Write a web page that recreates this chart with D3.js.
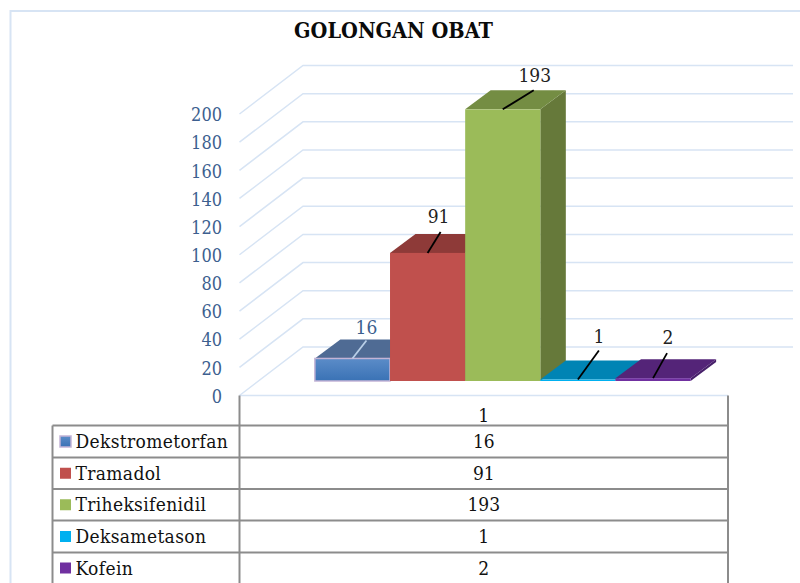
<!DOCTYPE html>
<html>
<head>
<meta charset="utf-8">
<script src="https://cdn.jsdelivr.net/npm/d3@7/dist/d3.min.js"></script>
<style>
html,body{margin:0;padding:0;background:#fff;overflow:hidden}
svg{display:block}
text{font-family:"DejaVu Serif Condensed","DejaVu Serif",serif}
</style>
</head>
<body>
<svg id="c" width="800" height="583"></svg>
<script>
const titleText = "GOLONGAN OBAT";
const seriesNames = ["Dekstrometorfan","Tramadol","Triheksifenidil","Deksametason","Kofein"];
const seriesValues = [16,91,193,1,2];
const categories = ["1"];
const yTicks = [0,20,40,60,80,100,120,140,160,180,200];
const frontColors = ["#4a7fbf","#c0504d","#9bbb59","#00b0f0","#7030a0"];
const topColors = ["#4f6b94","#8e3a38","#748d43","#0084b4","#542478"];
const sideColors = ["#435a7c","#7a3230","#66793a","#006f98","#47206a"];
const labelColors = ["#3d5f8f","#222222","#222222","#222222","#222222"];
const leaderColors = ["#b9cfe8","#000000","#000000","#000000","#000000"];
const leaderDx = [14,13,31,21,14];
const leaderDy = [18,21,19,29,25];
const labelDx = [14,11,32,21,15];
const labelDy = [31,36,33.5,43,41];

const FONT="'DejaVu Serif Condensed','DejaVu Serif',serif";
const GRID="#d7e4f4", TABLE="#8c8c8c", AXIS_TEXT="#3d5f8f";
const svg=d3.select("#c");

const left=239.5,right=728,floorY=395.5,topY=114;
const backDx=63.5,backDy=48.5;
const barDx=25.5,barDy=19,barBaseDy=14.5,barBaseDx=19;
const y=d3.scaleLinear().domain([0,200]).range([floorY,topY]);
const xCat=d3.scaleBand().domain(categories).range([left,right]).paddingOuter(0.15).paddingInner(0);
const xSer=d3.scaleBand().domain(seriesNames).range([xCat(categories[0]),xCat(categories[0])+xCat.bandwidth()]);
const h=v=>floorY-y(v);

// frame
svg.append("path").attr("d","M800,11H10.5V583").attr("fill","none").attr("stroke",GRID).attr("stroke-width",2);

// title
svg.append("text").attr("x",393.5).attr("y",38).attr("text-anchor","middle")
  .attr("font-size",21.5).attr("font-weight","bold").attr("fill","#0a0a0a").text(titleText);

// gridlines
const grid=svg.append("g").attr("fill","none").attr("stroke",GRID).attr("stroke-width",1.5);
yTicks.forEach(t=>{
  grid.append("path").attr("d",d3.line()([[left,y(t)],[left+backDx,y(t)-backDy],[793,y(t)-backDy]]));
});
grid.append("line").attr("x1",left).attr("x2",right).attr("y1",floorY).attr("y2",floorY);

// y axis labels
const axis=d3.axisLeft(y).tickValues(yTicks).tickSize(0).tickPadding(17.5);
const ga=svg.append("g").attr("transform",`translate(${left},1)`).call(axis);
ga.select(".domain").remove();
ga.selectAll("text").attr("font-family",FONT).attr("font-size",18).attr("fill",AXIS_TEXT);

// gradient for first series
const defs=svg.append("defs");
const lg=defs.append("linearGradient").attr("id","g0").attr("x1",0).attr("x2",0).attr("y1",0).attr("y2",1);
lg.append("stop").attr("offset",0).attr("stop-color","#5b8cc8");
lg.append("stop").attr("offset",1).attr("stop-color","#3a72b5");

// bars
const bars=svg.append("g");
seriesNames.forEach((s,i)=>{
  const x0=xSer(s)+barBaseDx,w=xSer.bandwidth(),v=seriesValues[i];
  const hh=h(v),base=floorY-barBaseDy,top=base-hh;
  const g=bars.append("g");
  g.append("path").attr("fill",sideColors[i])
    .attr("d",d3.line()([[x0+w,base],[x0+w+barDx,base-barDy],[x0+w+barDx,top-barDy],[x0+w,top]])+"Z");
  g.append("path").attr("fill",topColors[i])
    .attr("d",d3.line()([[x0,top],[x0+barDx,top-barDy],[x0+w+barDx,top-barDy],[x0+w,top]])+"Z");
  const r=g.append("rect").attr("x",x0).attr("y",top).attr("width",w).attr("height",hh)
    .attr("fill",i===0?"url(#g0)":frontColors[i]);
  if(i===0) r.attr("stroke","#c3b4d6").attr("stroke-width",1.5);
});

// leaders and value labels
seriesNames.forEach((s,i)=>{
  const cx=xSer(s)+barBaseDx+xSer.bandwidth()/2;
  const top=floorY-barBaseDy-h(seriesValues[i]);
  svg.append("line").attr("x1",cx).attr("y1",top).attr("x2",cx+leaderDx[i]).attr("y2",top-leaderDy[i])
    .attr("stroke",leaderColors[i]).attr("stroke-width",1.8);
  svg.append("text").attr("x",cx+labelDx[i]).attr("y",top-labelDy[i]+6.5).attr("text-anchor","middle")
    .attr("font-size",19).attr("fill",labelColors[i]).text(seriesValues[i]);
});

// data table
const tableLeft=52.5,rowH=[30,32,31.5,31.5,32,31];
const rowY=[floorY];
rowH.forEach(d=>rowY.push(rowY[rowY.length-1]+d));
const tb=svg.append("g").attr("stroke",TABLE).attr("stroke-width",2).attr("fill","none");
tb.append("line").attr("x1",left).attr("x2",left).attr("y1",floorY).attr("y2",583);
tb.append("line").attr("x1",right).attr("x2",right).attr("y1",floorY).attr("y2",583);
tb.append("line").attr("x1",tableLeft).attr("x2",tableLeft).attr("y1",rowY[1]).attr("y2",583);
rowY.slice(1,6).forEach(yy=>tb.append("line").attr("x1",tableLeft).attr("x2",right).attr("y1",yy).attr("y2",yy));

const cxTable=(left+right)/2;
svg.append("text").attr("x",cxTable).attr("y",rowY[0]+26).attr("text-anchor","middle")
  .attr("font-size",19).attr("fill","#111").text(categories[0]);
seriesNames.forEach((s,i)=>{
  const ry=rowY[i+1],mid=ry+rowH[i+1]/2;
  svg.append("rect").attr("x",60).attr("y",mid-5.5).attr("width",11).attr("height",11)
    .attr("fill",i===0?"url(#g0)":frontColors[i])
    .attr("stroke",i===0?"#c3b4d6":"none").attr("stroke-width",1.5);
  svg.append("text").attr("x",75.5).attr("y",mid+6.5).attr("font-size",19).attr("letter-spacing",0.35)
    .attr("fill","#111").text(s);
  svg.append("text").attr("x",cxTable).attr("y",mid+6.5).attr("text-anchor","middle")
    .attr("font-size",19).attr("fill","#111").text(seriesValues[i]);
});
</script>
</body>
</html>
